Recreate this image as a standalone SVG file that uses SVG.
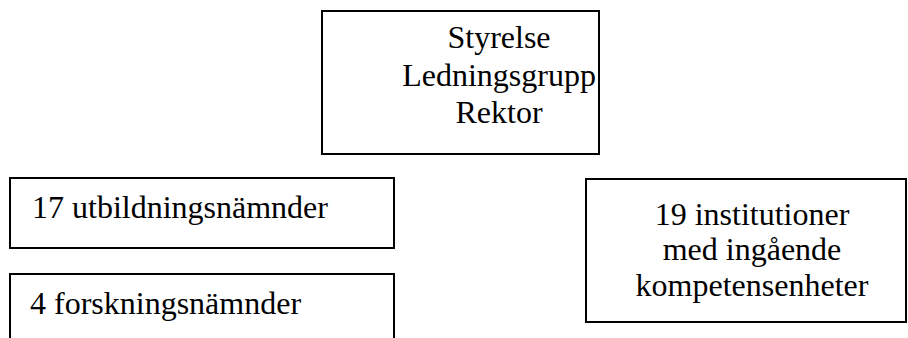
<svg xmlns="http://www.w3.org/2000/svg" width="908" height="338" viewBox="0 0 908 338">
  <defs>
    <style>
      .box { fill: #ffffff; stroke: #000000; stroke-width: 2; }
      .mid { text-anchor: middle; }
    </style>
  </defs>
  <rect width="908" height="338" fill="#ffffff"/>

  <!-- all labels share one serif face at 32px -->
  <g font-family="Liberation Serif, Times New Roman, serif" font-size="32" fill="#000000">
    <g id="ledning">
      <rect class="box" x="322" y="11" width="277" height="143"/>
      <text class="mid" x="499" y="48">Styrelse</text>
      <text class="mid" x="499" y="86">Ledningsgrupp</text>
      <text class="mid" x="499" y="123">Rektor</text>
    </g>

    <g id="utbildningsnamnder">
      <rect class="box" x="10" y="178" width="384" height="70"/>
      <text x="32" y="218">17 utbildningsnämnder</text>
    </g>

    <g id="forskningsnamnder">
      <rect class="box" x="10" y="274" width="384" height="80"/>
      <text x="30" y="314">4 forskningsnämnder</text>
    </g>

    <g id="institutioner">
      <rect class="box" x="586" y="179" width="320" height="143"/>
      <text class="mid" x="752" y="225">19 institutioner</text>
      <text class="mid" x="752" y="260">med ingående</text>
      <text class="mid" x="752" y="296">kompetensenheter</text>
    </g>
  </g>

  <g id="connectors"/>
</svg>
